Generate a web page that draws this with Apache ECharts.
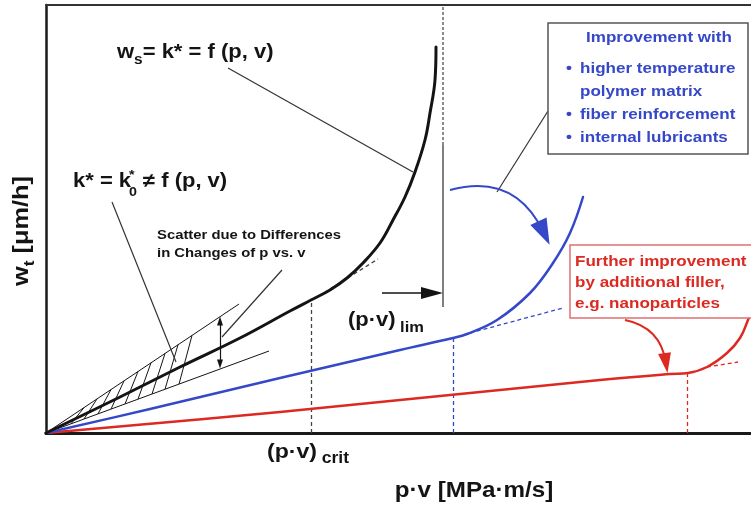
<!DOCTYPE html>
<html><head><meta charset="utf-8">
<script src="https://cdn.jsdelivr.net/npm/echarts@6/dist/echarts.min.js"></script>
<style>html,body{margin:0;padding:0;background:#fff}#c{width:751px;height:505px}</style>
</head><body><div id="c"></div>
<script>
// Schematic units: x = p·v, y = w_t
const blackCurve = [[0,0],[7.4,3.6],[13.4,6.6],[19.4,9.5],[24.4,12.2],[26.5,13.3],[28.4,14.3],[30.1,15.5],[31.7,17.0],[33.4,19.0],[34.7,21.3],[35.9,23.6],[36.9,26.1],[37.9,29.3],[38.4,32.0],[38.9,35.3],[39.0,38.6]];
const blueCurve = [[0,0],[10.4,2.4],[23.4,5.5],[35.4,8.3],[40.7,9.5],[42.1,9.9],[45.1,11.3],[48.4,14.0],[50.7,17.0],[52.4,20.0],[53.7,23.6]];
const redCurve = [[0,0],[23.4,2.1],[55.4,5.3],[62.4,5.9],[64.2,6.0],[66.1,6.6],[68.1,8.0],[69.4,9.5],[70.2,11.3],[70.5,12.1]];

const blackTangent = [[28.4,14.4],[33.2,17.4]];
const blueTangent = [[42.4,10.0],[51.7,12.5]];
const redTangent = [[66.1,6.6],[69.2,7.1]];

const blackCrit = [[26.5,0],[26.5,13.3]];
const blueCrit = [[40.7,0],[40.7,9.5]];
const redCrit = [[64.1,0],[64.1,5.9]];

const limSolid = [[39.7,12.6],[39.7,28.8]];
const limDashed = [[39.7,28.8],[39.7,42.8]];
const limArrow = [[33.6,14.0],[38.6,14.0]];

const scatterUpper = [[0,0],[19.3,12.9]];
const scatterLower = [[0,0],[22.3,8.2]];
const hatchTopX = [3.8,5.1,6.5,7.8,9.2,10.5,11.9,13.2,14.6];
const hatchShift = 1.3;
const scatterArrow = [[17.4,11.2],[17.4,6.9]];

const wsLeader = [[18.2,36.5],[36.7,26.1]];
const kLeader = [[6.6,23.1],[13.0,7.1]];
const scatterLeader = [[23.6,16.3],[17.6,9.6]];
const boxLeader = [[50.2,32.2],[45.1,24.1]];

const blueArc = [[40.4,24.3],[49.8,20.0]];
const redArc = [[57.9,11.3],[62.0,7.0]];

const boxBlueLines = ['higher temperature','polymer matrix','fiber reinforcement','internal lubricants'];
const boxRedLines = ['Further improvement','by additional filler,','e.g. nanoparticles'];

const BLACK = '#141414', BLUE = '#3548c8', RED = '#dc2a22', GRAY = '#333';
const F = "'Liberation Sans', Arial, Helvetica, sans-serif";

function segs(list, color, width, type, symbol, symbolSize, curveness, z) {
  return {
    type: 'lines', coordinateSystem: 'cartesian2d', xAxisIndex: 0, yAxisIndex: 0,
    silent: true, z: z || 3,
    symbol: symbol || ['none','none'], symbolSize: symbolSize || 1,
    lineStyle: { color: color, width: width, type: type || 'solid', opacity: 1, curveness: curveness || 0 },
    data: list.map(s => ({ coords: s }))
  };
}
function curve(data, color, width, z) {
  return { type: 'line', data: data, symbol: 'none', smooth: 0.4, silent: true, z: z || 4,
    lineStyle: { color: color, width: width, cap: 'round', join: 'round' } };
}

const upperSlope = scatterUpper[1][1] / scatterUpper[1][0];
const lowerSlope = scatterLower[1][1] / scatterLower[1][0];
const hatchSegs = hatchTopX.map(u => [[u, u * upperSlope], [u - hatchShift, (u - hatchShift) * lowerSlope]]);

function T(x, y, text, size, color, extra) {
  return Object.assign({ type: 'text', x: x, y: y, z: 120, scaleX: 1.1,
    style: Object.assign({ text: text, fontSize: size, fontWeight: 'bold', fontFamily: F, fill: color || BLACK,
      align: 'left', verticalAlign: 'middle' }, (extra && extra.style) || {}) }, (extra && extra.el) || {});
}
function richT(x, y, text, big, small, color, extra) {
  const c = color || BLACK;
  return T(x, y, text, big, c, { style: { rich: {
      a: { fontSize: big, fontWeight: 'bold', fontFamily: F, fill: c, lineHeight: 30, verticalAlign: 'middle' },
      s: { fontSize: small, fontWeight: 'bold', fontFamily: F, fill: c, lineHeight: small, verticalAlign: 'bottom' }
    }, ...(extra && extra.style || {}) }, el: (extra && extra.el) || {} });
}

const graphics = [
  { type: 'rect', z: 110, shape: { x: 548, y: 23, width: 200, height: 131 }, style: { fill: '#fff', stroke: '#555', lineWidth: 1.5 } },
  { type: 'rect', z: 110, shape: { x: 570, y: 245, width: 190, height: 73 }, style: { fill: '#fff', stroke: '#e07070', lineWidth: 1.5 } },
  richT(117, 52, '{a|w}{s|s}{a|= k* = f (p, v)}', 20, 14),
  T(73, 181, 'k* = k', 20),
  T(129, 192, '0', 13),
  T(129, 175, '*', 13),
  T(143, 181, '\u2260 f (p, v)', 20),
  T(157, 235, 'Scatter due to Differences', 13.5),
  T(157, 253, 'in Changes of p vs. v', 13.5),
  richT(348, 320, '{a|(p\u00b7v)\u2009}{s|lim}', 20, 15),
  richT(267, 452, '{a|(p\u00b7v)\u2009}{s|crit}', 21, 16),
  T(474, 491, 'p\u00b7v [MPa\u00b7m/s]', 22, BLACK, { style: { align: 'center' } }),
  richT(22, 231, '{a|w}{s|t}{a| [\u03bcm/h]}', 22, 15, BLACK, { style: { align: 'center' }, el: { rotation: Math.PI / 2, scaleX: 1.15 } }),
  T(659, 38, 'Improvement with', 15.5, BLUE, { style: { align: 'center' } })
];
const blueY = [69, 92, 115, 138];
boxBlueLines.forEach((s, i) => {
  if (i !== 1) graphics.push(T(566, blueY[i], '\u2022', 15.5, BLUE));
  graphics.push(T(580, blueY[i], s, 15.5, BLUE));
});
const redY = [262, 283, 304];
boxRedLines.forEach((s, i) => graphics.push(T(575, redY[i], s, 15.5, RED)));

const option = {
  animation: false,
  grid: { left: 46, right: 0, top: 5, bottom: 72 },
  xAxis: [
    { type: 'value', min: 0, max: 70.5, axisLine: { show: true, onZero: false, lineStyle: { color: '#1a1a1a', width: 3 } },
      axisTick: { show: false }, axisLabel: { show: false }, splitLine: { show: false } },
    { type: 'value', position: 'top', min: 0, max: 70.5, axisLine: { show: true, onZero: false, lineStyle: { color: '#333', width: 2 } },
      axisTick: { show: false }, axisLabel: { show: false }, splitLine: { show: false } }
  ],
  yAxis: { type: 'value', min: 0, max: 42.8, axisLine: { show: true, onZero: false, lineStyle: { color: '#1a1a1a', width: 2.5 } },
    axisTick: { show: false }, axisLabel: { show: false }, splitLine: { show: false } },
  series: [
    segs(hatchSegs, BLACK, 1),
    segs([scatterUpper, scatterLower], BLACK, 1),
    segs([blackCrit, blackTangent], '#444', 1.3, [4, 3]),
    segs([blueCrit, blueTangent], BLUE, 1.3, [4, 3]),
    segs([redCrit, redTangent], RED, 1.3, [4, 3]),
    segs([limSolid], '#555', 1.5),
    segs([limDashed], '#666', 1.5, [3, 2]),
    segs([wsLeader, kLeader, scatterLeader, boxLeader], GRAY, 1.2),
    segs([limArrow], BLACK, 1.5, 'solid', ['none', 'triangle'], [[12, 22], [12, 22]]),
    segs([scatterArrow], BLACK, 1.2, 'solid', ['triangle', 'triangle'], [[6, 9], [6, 9]]),
    segs([blueArc], BLUE, 2, 'solid', ['none', 'triangle'], [[18, 26], [18, 26]], 0.42),
    segs([redArc], RED, 2, 'solid', ['none', 'triangle'], [[13, 20], [13, 20]], 0.35),
    curve(redCurve, RED, 2.5),
    curve(blueCurve, BLUE, 2.5),
    curve(blackCurve, BLACK, 3)
  ],
  graphic: graphics
};
const chart = echarts.init(document.getElementById('c'), null, { renderer: 'canvas' });
chart.setOption(option);
</script></body></html>
